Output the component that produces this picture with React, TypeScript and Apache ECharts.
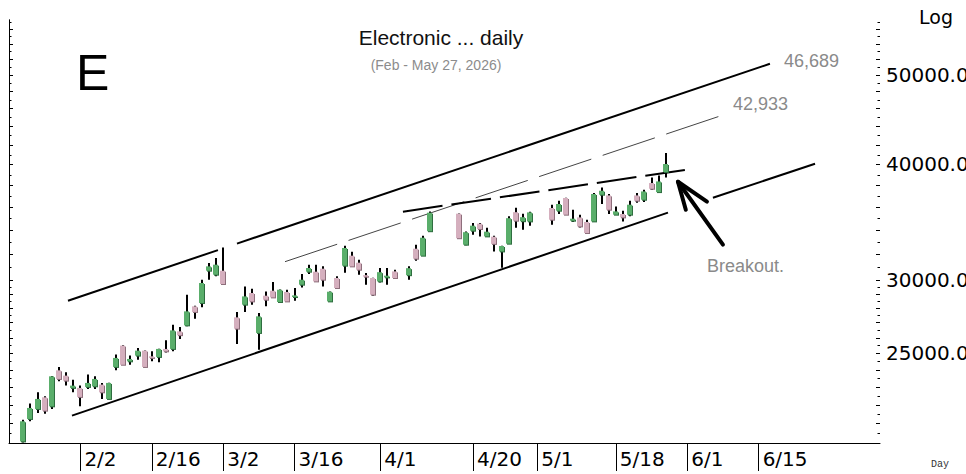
import React, { useEffect, useRef } from "react";
import * as echarts from "echarts";

// ---------- data ----------
const START_DATE = "2026-01-19";
const N_DAYS = 123;
const xTickLabels = ["2/2", "2/16", "3/2", "3/16", "4/1", "4/20", "5/1", "5/18", "6/1", "6/15"];

const candleDates = [
  "1/21", "1/22", "1/23", "1/26", "1/27", "1/28", "1/29", "1/30",
  "2/2", "2/3", "2/4", "2/5", "2/6", "2/9", "2/10", "2/11", "2/12", "2/13",
  "2/16", "2/17", "2/18", "2/19", "2/20", "2/23", "2/24", "2/25", "2/26", "2/27",
  "3/2", "3/4", "3/5", "3/6", "3/9", "3/10", "3/11", "3/12", "3/13",
  "3/16", "3/17", "3/18", "3/19", "3/20", "3/23", "3/24", "3/25", "3/26", "3/27",
  "3/30", "3/31", "4/1", "4/2", "4/3", "4/7", "4/8", "4/9", "4/10",
  "4/16", "4/17", "4/20", "4/21", "4/22", "4/23", "4/24", "4/27", "4/28", "4/29", "4/30",
  "5/5", "5/6", "5/7", "5/8", "5/11", "5/12", "5/13", "5/14", "5/15",
  "5/18", "5/19", "5/20", "5/21", "5/22", "5/25", "5/26", "5/27",
];
const opens = [
  20080, 21233, 21768, 22408, 21911, 23964, 23651, 22938,
  22938, 22995, 23030, 23128, 22318, 24168, 25484, 24507, 24858, 25168,
  24814, 24777, 25275, 25275, 26405, 26803, 28099, 28337, 30707, 30404,
  30707, 27341, 28218, 29050, 26301, 28855, 29215, 28407, 29122,
  28762, 29656, 30631, 30631, 30861, 28449, 30155, 31092, 31876, 31325,
  30367, 30155, 29900, 30200, 30654, 30367, 32435, 31876, 33878,
  35388, 32760, 33920, 34518, 33444, 33418, 32216, 32842, 35520, 34732, 34715,
  35892, 35651, 36795, 34775, 35063, 34664, 34715, 37098, 37034,
  35300, 35361, 35300, 37034, 36638, 38192, 37342, 39253,
];
const closes = [
  21110, 21823, 22318, 21677, 23610, 23456, 23358, 23070,
  22430, 23225, 23456, 22689, 23225, 24715, 24300, 24653, 25168, 24168,
  24715, 25275, 25125, 26470, 26157, 27752, 27711, 29782, 31039, 31170,
  29708, 26583, 28805, 28449, 27409, 28568, 28733, 29287, 28449,
  28877, 30026, 30915, 29900, 30026, 29143, 29413, 32492, 31039, 30783,
  30253, 28928, 30594, 30329, 30155, 30900, 31638, 33334, 35476,
  33292, 33795, 34347, 34064, 33837, 32825, 32654, 34993, 34775, 35080, 35502,
  34861, 36251, 35300, 34949, 34287, 33728, 37162, 37466, 35739,
  35590, 35063, 36188, 36548, 37402, 37653, 38343, 40044,
];
const lows = [
  20030, 21107, 21554, 21516, 21768, 23317, 23070, 22689,
  21911, 22880, 22880, 22318, 22300, 23964, 24280, 24300, 24610, 24150,
  24507, 24447, 25050, 25125, 25910, 26736, 27251, 28029, 30026, 30276,
  29690, 25591, 27711, 28218, 25230, 28099, 28720, 28400, 28407,
  28497, 29457, 30457, 29856, 29531, 28440, 29400, 30556, 31030, 30404,
  29656, 28855, 29826, 29656, 30079, 30026, 31480, 31860, 33811,
  33226, 32720, 33585, 33444, 33430, 32216, 30938, 32815, 34175, 34004, 34347,
  34432, 35361, 35290, 34660, 34200, 33645, 34664, 36251, 35361,
  35290, 34715, 35151, 36368, 36429, 37558, 37254, 38728,
];
const highs = [
  21196, 22059, 22689, 22464, 23630, 24168, 23846, 23415,
  23070, 23710, 23610, 23225, 23240, 24920, 25500, 24858, 25338, 25180,
  25125, 25290, 25820, 26850, 26700, 28928, 28140, 30026, 31302, 31693,
  32541, 27711, 29531, 29361, 27643, 29165, 29856, 29300, 29287,
  29413, 30457, 31170, 31170, 31039, 29150, 30276, 32679, 32195, 31558,
  30532, 30170, 30915, 30915, 30783, 31039, 32760, 33502, 35590,
  35400, 33862, 34578, 34578, 34175, 33502, 32679, 35151, 35919, 35388, 35563,
  36188, 36548, 36810, 35739, 35300, 34861, 37254, 37776, 37162,
  36035, 35651, 36548, 37254, 37558, 38728, 38922, 41154,
];

// y axis (log) labels and minor ticks
const yLabelValues = [25000, 30000, 40000, 50000];
const yTickValues = [
  20500, 21000, 21500, 22000, 22500, 23000, 23500, 24000, 24500, 25000,
  25500, 26000, 26500, 27000, 27500, 28000, 28500, 29000, 29500, 30000,
  31000, 32000, 33000, 34000, 35000, 36000, 37000, 38000, 39000, 40000,
  41000, 42000, 43000, 44000, 45000, 46000, 47000, 48000, 49000, 50000,
  51000, 52000, 53000, 54000, 55000, 56000, 57000,
];

// trend lines: [day index, price]
const upperChannelA = [[8.26, 28498], [29.27, 32322]];
const upperChannelB = [[31.93, 32850], [106.58, 51387]];
const lowerChannelA = [[8.82, 21410], [92.3, 35476]];
const lowerChannelB = [[98.6, 36822], [112.9, 40074]];
const midDashed = [[38.66, 31403], [100.56, 45380]];
const resistance = [[55.18, 35563], [95.8, 39576]];
const arrowShaft = [[100.0, 32760], [93.7, 38315]];
const arrowHead = [[94.8, 35739], [93.7, 38315], [97.76, 36458]];

const Y_MIN = 20000;
const Y_MAX = 57300;

function buildDates(): string[] {
  const out: string[] = [];
  const d = new Date(START_DATE + "T12:00:00");
  while (out.length < N_DAYS) {
    const wd = d.getDay();
    if (wd !== 0 && wd !== 6) out.push(`${d.getMonth() + 1}/${d.getDate()}`);
    d.setDate(d.getDate() + 1);
  }
  return out;
}

export default function App() {
  const ref = useRef<HTMLDivElement>(null);
  useEffect(() => {
    if (!ref.current) return;
    const chart = echarts.init(ref.current, null, { renderer: "svg" });
    const dates = buildDates();
    const labelSet = new Set(xTickLabels);
    const showFn = (_i: number, v: string) => labelSet.has(v);
    const candleData = candleDates.map((d, i) => [dates.indexOf(d), opens[i], closes[i], lows[i], highs[i]]);

    const lineSeries = (data: number[][], style: any) => ({
      type: "line",
      xAxisIndex: 1,
      yAxisIndex: 0,
      data,
      symbol: "none",
      silent: true,
      lineStyle: style,
      z: 3,
    });

    const option: any = {
      animation: false,
      textStyle: { fontFamily: "DejaVu Sans" },
      grid: { left: 9, right: 86, top: 20, bottom: 31 },
      xAxis: [
        {
          type: "category",
          data: dates,
          boundaryGap: false,
          axisLine: { lineStyle: { color: "#000", width: 1 } },
          axisTick: { interval: showFn, length: 28, lineStyle: { color: "#000" } },
          axisLabel: {
            interval: showFn,
            align: "left",
            padding: [0, 0, 0, 4],
            margin: 6,
            fontSize: 20,
            fontFamily: "DejaVu Sans",
            color: "#000",
          },
          splitLine: { show: false },
        },
        { type: "value", min: 0, max: N_DAYS - 1, show: false },
      ],
      yAxis: [
        {
          type: "log",
          position: "right",
          min: Y_MIN,
          max: Y_MAX,
          axisLine: { show: true, lineStyle: { color: "#000" } },
          axisTick: { show: false },
          axisLabel: { show: false },
          splitLine: { show: false },
        },
        {
          type: "log",
          position: "left",
          min: Y_MIN,
          max: Y_MAX,
          axisLine: { show: true, lineStyle: { color: "#000" } },
          axisTick: { show: false },
          axisLabel: { show: false },
          splitLine: { show: false },
        },
      ],
      series: [
        {
          type: "custom",
          name: "ticks",
          xAxisIndex: 1,
          yAxisIndex: 0,
          silent: true,
          data: yTickValues.map((v) => [0, v]),
          encode: { x: 0, y: 1 },
          renderItem: (params: any, api: any) => {
            const v = api.value(1);
            const p = api.coord([0, v]);
            const cs = params.coordSys;
            const big = v < 30000 ? v % 1000 === 0 : v % 2000 === 0;
            const len = big ? 4 : 2.5;
            const y = Math.round(p[1]) + 0.5;
            return {
              type: "group",
              children: [
                { type: "line", shape: { x1: cs.x, y1: y, x2: cs.x + len, y2: y }, style: { stroke: "#000", lineWidth: 1 } },
                { type: "line", shape: { x1: cs.x + cs.width - len, y1: y, x2: cs.x + cs.width, y2: y }, style: { stroke: "#000", lineWidth: 1 } },
              ],
            };
          },
          markLine: {
            silent: true,
            symbol: "none",
            lineStyle: { color: "rgba(0,0,0,0)", width: 0 },
            label: {
              show: true,
              position: "end",
              distance: 6,
              formatter: (p: any) => Number(p.value).toFixed(2),
              fontSize: 20,
              fontFamily: "DejaVu Sans",
              color: "#000",
            },
            data: yLabelValues.map((v) => ({ yAxis: v })),
          },
          z: 2,
        },
        lineSeries(upperChannelA, { color: "#000", width: 2 }),
        lineSeries(upperChannelB, { color: "#000", width: 2 }),
        lineSeries(lowerChannelA, { color: "#000", width: 2 }),
        lineSeries(lowerChannelB, { color: "#000", width: 2 }),
        lineSeries(midDashed, { color: "#444", width: 1, type: [55, 12] }),
        lineSeries(resistance, { color: "#000", width: 2, type: [40, 9] }),
        lineSeries(arrowShaft, { color: "#000", width: 4, cap: "round" }),
        lineSeries(arrowHead, { color: "#000", width: 4, cap: "round", join: "round" }),
        {
          type: "custom",
          name: "candles",
          xAxisIndex: 0,
          yAxisIndex: 0,
          silent: true,
          data: candleData,
          encode: { x: 0, y: [1, 2, 3, 4] },
          z: 5,
          renderItem: (_params: any, api: any) => {
            const i = api.value(0);
            const o = api.value(1);
            const c = api.value(2);
            const l = api.value(3);
            const h = api.value(4);
            const pH = api.coord([i, h]);
            const pL = api.coord([i, l]);
            const pO = api.coord([i, o]);
            const pC = api.coord([i, c]);
            const x = Math.round(pH[0]);
            const up = c >= o;
            const yTop = Math.min(pO[1], pC[1]);
            const bh = Math.max(Math.abs(pO[1] - pC[1]), 1.5);
            return {
              type: "group",
              children: [
                { type: "line", shape: { x1: x, y1: pH[1], x2: x, y2: pL[1] }, style: { stroke: "#000", lineWidth: 2 } },
                { type: "rect", shape: { x: x - 2, y: yTop + 1, width: 5, height: bh }, style: { fill: up ? "#2f6e40" : "#8e6f7c" } },
                { type: "rect", shape: { x: x - 3, y: yTop, width: 5, height: bh }, style: { fill: up ? "#5aae6b" : "#d5afbe" } },
              ],
            };
          },
        },
      ],
      graphic: [
        { type: "text", left: 76, top: 48, style: { text: "E", fontSize: 50, fontFamily: "Liberation Sans", fill: "#000" } },
        { type: "text", x: 441, y: 37, style: { text: "Electronic ... daily", fontSize: 21, fontFamily: "Liberation Sans", fill: "#111", textAlign: "center", textVerticalAlign: "middle" } },
        { type: "text", x: 436, y: 65, style: { text: "(Feb - May 27, 2026)", fontSize: 14, fontFamily: "Liberation Sans", fill: "#8c8c8c", textAlign: "center", textVerticalAlign: "middle" } },
        { type: "text", x: 784, y: 61, style: { text: "46,689", fontSize: 18, fontFamily: "Liberation Sans", fill: "#8a8a8a", textAlign: "left", textVerticalAlign: "middle" } },
        { type: "text", x: 733, y: 104, style: { text: "42,933", fontSize: 18, fontFamily: "Liberation Sans", fill: "#8a8a8a", textAlign: "left", textVerticalAlign: "middle" } },
        { type: "text", x: 707, y: 266, style: { text: "Breakout.", fontSize: 18, fontFamily: "Liberation Sans", fill: "#8a8a8a", textAlign: "left", textVerticalAlign: "middle" } },
        { type: "text", x: 919, y: 17, style: { text: "Log", fontSize: 19, fontFamily: "DejaVu Sans", fill: "#000", textAlign: "left", textVerticalAlign: "middle" } },
        { type: "text", x: 940, y: 464, style: { text: "Day", fontSize: 10, fontFamily: "Liberation Mono", fill: "#333", textAlign: "center", textVerticalAlign: "middle" } },
      ],
    };
    chart.setOption(option);
    return () => chart.dispose();
  }, []);
  return <div ref={ref} style={{ position: "fixed", left: 0, top: 0, width: 966, height: 474, background: "#fff" }} />;
}
